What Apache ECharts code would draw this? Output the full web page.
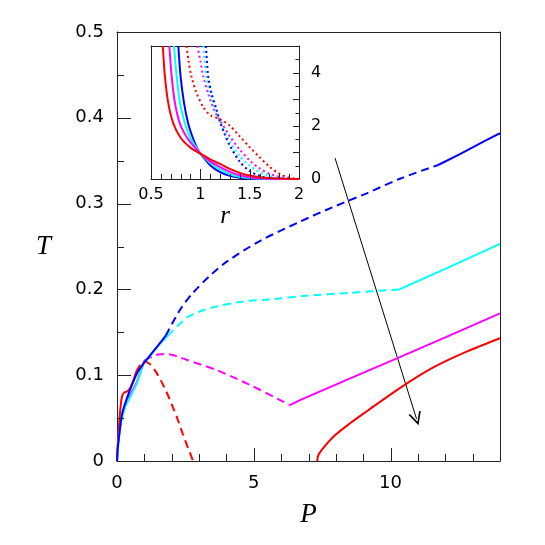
<!DOCTYPE html>
<html>
<head>
<meta charset="utf-8">
<script src="https://cdn.jsdelivr.net/npm/echarts@6/dist/echarts.min.js"></script>
<style>
  html, body { margin: 0; padding: 0; background: #fff; }
  #chart { width: 545px; height: 545px; }
</style>
</head>
<body>
<div id="chart"></div>
<script>
// main panel: T against P, each colour split into solid / dashed pieces
const redSolidA = [[0, 0], [0.03, 0.02], [0.06, 0.036], [0.12, 0.06], [0.18, 0.075], [0.27, 0.08], [0.37, 0.081], [0.5, 0.086], [0.6, 0.094], [0.7, 0.104]]
const redDashed = [[0.7, 0.104], [0.85, 0.112], [1.0, 0.116], [1.2, 0.113], [1.4, 0.105], [1.6, 0.094], [1.8, 0.081], [2.0, 0.066], [2.2, 0.05], [2.4, 0.032], [2.6, 0.015], [2.78, 0]]
const redSolidB = [[7.32, 0], [7.35, 0.006], [7.48, 0.0128], [7.91, 0.0283], [8.52, 0.044], [9.13, 0.058], [10.34, 0.085], [11.56, 0.109], [12.78, 0.1274], [14, 0.143]]

const magentaSolidA = [[0, 0], [0.05, 0.025], [0.15, 0.048], [0.3, 0.066], [0.5, 0.078], [0.7, 0.09], [0.85, 0.103], [1.0, 0.117]]
const magentaDashed = [[1.0, 0.117], [1.3, 0.122], [1.6, 0.1245], [1.9, 0.1245], [2.2, 0.122], [2.54, 0.118], [3.0, 0.113], [3.64, 0.106], [4.86, 0.0886], [5.96, 0.071], [6.32, 0.065]]
const magentaSolidB = [[6.32, 0.065], [6.69, 0.071], [8.5, 0.096], [10.34, 0.121], [12, 0.144], [14, 0.172]]

const cyanSolidA = [[0, 0], [0.05, 0.02], [0.15, 0.045], [0.3, 0.063], [0.55, 0.079], [0.72, 0.09], [0.84, 0.101], [0.96, 0.113], [1.2, 0.122], [1.5, 0.134], [1.85, 0.146]]
const cyanDashed = [[1.85, 0.146], [2.3, 0.16], [2.54, 0.167], [3.0, 0.174], [3.64, 0.18], [4.62, 0.186], [5.84, 0.189], [6.69, 0.192], [8.5, 0.196], [10.32, 0.2]]
const cyanSolidB = [[10.32, 0.2], [12, 0.224], [14, 0.253]]

const blueSolidA = [[0, 0], [0.02, 0.012], [0.06, 0.0245], [0.18, 0.054], [0.43, 0.079], [0.73, 0.102], [1.03, 0.116], [1.46, 0.133], [1.78, 0.146]]
const blueDashed = [[1.78, 0.146], [2.3, 0.176], [2.75, 0.195], [3.4, 0.216], [4.0, 0.232], [5.2, 0.256], [6.69, 0.279], [7.9, 0.296], [9.13, 0.312], [10.34, 0.329], [11.74, 0.345]]
const blueSolidB = [[11.74, 0.345], [12.5, 0.357], [13.5, 0.374], [14, 0.382]]

const arrowFrom = [7.97, 0.353]
const arrowTo = [10.95, 0.049]

// tick labels and tick positions
const mainXLabels = [0, 5, 10]
const mainXMajorTicks = [5, 10]
const mainXMinorTicks = [1, 2, 3, 4, 6, 7, 8, 9, 11, 12, 13]
const mainYMajorTicks = [0.1, 0.2, 0.3, 0.4]
const mainYMinorTicks = [0.05, 0.15, 0.25, 0.35, 0.45]

// inset: r
const insetRedSolid = [[0.62, 5], [0.64, 3.9], [0.675, 2.85], [0.725, 2.1], [0.8, 1.55], [0.9, 1.18], [1.0, 0.95], [1.1, 0.74], [1.2, 0.57], [1.3, 0.38], [1.4, 0.23], [1.5, 0.13], [1.6, 0.07], [1.7, 0.035], [1.85, 0.012], [2.0, 0.003]]
const insetMagentaSolid = [[0.686, 5], [0.71, 3.85], [0.743, 2.85], [0.794, 2.07], [0.862, 1.57], [0.93, 1.25], [1.0, 0.96], [1.1, 0.66], [1.2, 0.45], [1.3, 0.27], [1.4, 0.14], [1.5, 0.07], [1.6, 0.03], [1.75, 0.01], [2.0, 0]]
const insetCyanSolid = [[0.733, 5], [0.76, 3.85], [0.794, 2.85], [0.845, 2.07], [0.895, 1.57], [0.956, 1.2], [1.0, 0.96], [1.1, 0.6], [1.2, 0.35], [1.3, 0.18], [1.4, 0.08], [1.5, 0.035], [1.65, 0.01], [2.0, 0]]
const insetBlueSolid = [[0.777, 5], [0.8, 3.85], [0.835, 2.85], [0.878, 2.07], [0.922, 1.57], [0.963, 1.2], [1.0, 0.96], [1.1, 0.52], [1.2, 0.26], [1.3, 0.12], [1.4, 0.045], [1.5, 0.015], [1.65, 0], [2.0, 0]]

const insetRedDotted = [[0.86, 5], [0.88, 4.45], [0.91, 3.85], [0.96, 3.25], [1.03, 2.7], [1.1, 2.4], [1.2, 2.25], [1.3, 2.0], [1.4, 1.6], [1.5, 1.2], [1.6, 0.82], [1.7, 0.47], [1.8, 0.2], [1.9, 0.05], [2.0, 0]]
const insetMagentaDotted = [[0.97, 5], [1.0, 4.45], [1.03, 3.85], [1.08, 3.2], [1.14, 2.6], [1.2, 2.2], [1.3, 1.6], [1.4, 1.1], [1.5, 0.7], [1.6, 0.4], [1.7, 0.2], [1.8, 0.08], [1.9, 0.02], [2.0, 0]]
const insetCyanDotted = [[1.03, 5], [1.06, 3.85], [1.1, 3.2], [1.15, 2.6], [1.2, 2.15], [1.3, 1.4], [1.4, 0.85], [1.5, 0.5], [1.6, 0.26], [1.7, 0.11], [1.8, 0.04], [1.9, 0.01], [2.0, 0]]
const insetBlueDotted = [[1.057, 5], [1.08, 3.85], [1.115, 3.2], [1.165, 2.6], [1.2, 2.15], [1.25, 1.65], [1.3, 1.25], [1.4, 0.65], [1.5, 0.3], [1.6, 0.12], [1.7, 0.04], [1.8, 0.01], [2.0, 0]]

const insetYLabels = [0, 2, 4]
const insetXMajorTicks = [1, 1.5]
const insetXMinorTicks = [0.6, 0.7, 0.8, 0.9, 1.1, 1.2, 1.3, 1.4, 1.6, 1.7, 1.8, 1.9]
const insetYMajorTicks = [1, 2, 3, 4]
const insetYMinorTicks = [0.5, 1.5, 2.5, 3.5, 4.5]

const RED = '#ff0000'
const MAGENTA = '#ff00ff'
const CYAN = '#00ffff'
const BLUE = '#0000ff'
const AXIS = '#222'
const labelFont = 'DejaVu Sans'
const nameFont = 'Liberation Serif'

function curve (data, color, dash, idx, smooth) {
  return {
    type: 'line',
    data: data,
    xAxisIndex: idx === 0 ? 0 : 1,
    yAxisIndex: idx,
    symbol: 'none',
    smooth: smooth,
    lineStyle: { color: color, width: 2, type: dash }
  }
}

// tick marks drawn through the axis scales; side says which frame edge they sit on
function ticks (values, idx, side, anchor, len) {
  return {
    type: 'custom',
    xAxisIndex: idx === 0 ? 0 : 1,
    yAxisIndex: idx,
    silent: true,
    clip: false,
    z: 4,
    encode: { x: 0, y: 0 },
    data: values.map(v => [v]),
    renderItem: (params, api) => {
      const v = api.value(0)
      let p
      let shape
      if (side === 'bottom') {
        p = api.coord([v, anchor])
        const x = Math.round(p[0]) + 0.5
        shape = { x1: x, y1: p[1], x2: x, y2: p[1] - len }
      } else if (side === 'left') {
        p = api.coord([anchor, v])
        const y = Math.round(p[1]) + 0.5
        shape = { x1: p[0], y1: y, x2: p[0] + len, y2: y }
      } else {
        p = api.coord([anchor, v])
        const y = Math.round(p[1]) + 0.5
        shape = { x1: p[0], y1: y, x2: p[0] - len, y2: y }
      }
      return { type: 'line', shape: shape, style: { stroke: AXIS, lineWidth: 1 } }
    }
  }
}

// plain border axis: only a line, no ticks or labels
function borderAxis (grid, pos, min, max) {
  return {
    gridIndex: grid,
    type: 'value',
    min: min,
    max: max,
    position: pos,
    axisLine: { show: true, onZero: false, lineStyle: { color: AXIS } },
    axisTick: { show: false },
    axisLabel: { show: false },
    splitLine: { show: false }
  }
}

const dash = [8, 5]
const dot = [2, 3]

const chart = echarts.init(document.getElementById('chart'))

const series = [
  curve(redSolidA, RED, 'solid', 0, 0.2),
  curve(redDashed, RED, dash, 0, 0.3),
  curve(redSolidB, RED, 'solid', 0, 0.3),
  curve(magentaSolidA, MAGENTA, 'solid', 0, 0.2),
  curve(magentaDashed, MAGENTA, dash, 0, 0.3),
  curve(magentaSolidB, MAGENTA, 'solid', 0, false),
  curve(cyanSolidA, CYAN, 'solid', 0, 0.2),
  curve(cyanDashed, CYAN, dash, 0, 0.3),
  curve(cyanSolidB, CYAN, 'solid', 0, false),
  curve(blueSolidA, BLUE, 'solid', 0, 0.2),
  curve(blueDashed, BLUE, dash, 0, 0.3),
  curve(blueSolidB, BLUE, 'solid', 0, false),

  curve(insetRedDotted, RED, dot, 1, 0.3),
  curve(insetMagentaDotted, MAGENTA, dot, 1, 0.3),
  curve(insetCyanDotted, CYAN, dot, 1, 0.3),
  curve(insetBlueDotted, BLUE, dot, 1, 0.3),
  curve(insetBlueSolid, BLUE, 'solid', 1, 0.3),
  curve(insetCyanSolid, CYAN, 'solid', 1, 0.3),
  curve(insetMagentaSolid, MAGENTA, 'solid', 1, 0.3),
  curve(insetRedSolid, RED, 'solid', 1, 0.3),

  ticks(mainXMajorTicks, 0, 'bottom', 0, 13),
  ticks(mainXMinorTicks, 0, 'bottom', 0, 7),
  ticks(mainYMajorTicks, 0, 'left', 0, 14),
  ticks(mainYMinorTicks, 0, 'left', 0, 7),
  ticks(insetXMajorTicks, 1, 'bottom', 0, 10),
  ticks(insetXMinorTicks, 1, 'bottom', 0, 5),
  ticks(insetYMajorTicks, 1, 'right', 2, 6),
  ticks(insetYMinorTicks, 1, 'right', 2, 3.5)
]

// the arrow across the curves
series.push({
  type: 'lines',
  coordinateSystem: 'cartesian2d',
  xAxisIndex: 0,
  yAxisIndex: 0,
  symbol: ['none', 'path://M5,0 L10,18 L8.6,18 L5,5 L1.4,18 L0,18 Z'],
  symbolSize: [8, 13],
  lineStyle: { color: '#000', width: 1, opacity: 1 },
  data: [{ coords: [arrowFrom, arrowTo] }]
})

const option = {
  animation: false,
  grid: [
    { left: 117, top: 32, width: 383, height: 429 },
    { left: 151, top: 46, width: 148, height: 133 }
  ],
  xAxis: [
    {
      gridIndex: 0,
      type: 'value',
      min: 0,
      max: 14,
      interval: 1,
      name: 'P',
      nameLocation: 'middle',
      nameGap: 40,
      nameTextStyle: { fontFamily: nameFont, fontStyle: 'italic', fontSize: 27, color: '#000' },
      axisLine: { onZero: false, lineStyle: { color: AXIS } },
      axisTick: { show: false },
      axisLabel: {
        margin: 13,
        fontFamily: labelFont,
        fontSize: 18,
        color: '#000',
        formatter: v => (mainXLabels.indexOf(v) >= 0 ? String(v) : '')
      },
      splitLine: { show: false }
    },
    {
      gridIndex: 1,
      type: 'value',
      min: 0.5,
      max: 2,
      interval: 0.5,
      name: 'r',
      nameLocation: 'middle',
      nameGap: 21,
      nameTextStyle: { fontFamily: nameFont, fontStyle: 'italic', fontSize: 25, color: '#000' },
      axisLine: { onZero: false, lineStyle: { color: AXIS } },
      axisTick: { show: false },
      axisLabel: { margin: 8, fontFamily: labelFont, fontSize: 16, color: '#000' },
      splitLine: { show: false }
    },
    borderAxis(0, 'top', 0, 14),
    borderAxis(1, 'top', 0.5, 2)
  ],
  yAxis: [
    {
      gridIndex: 0,
      type: 'value',
      min: 0,
      max: 0.5,
      interval: 0.1,
      name: 'T',
      nameLocation: 'middle',
      nameRotate: 0,
      nameGap: 66,
      nameTextStyle: { fontFamily: nameFont, fontStyle: 'italic', fontSize: 27, color: '#000' },
      axisLine: { show: true, onZero: false, lineStyle: { color: AXIS } },
      axisTick: { show: false },
      axisLabel: { margin: 13, fontFamily: labelFont, fontSize: 18, color: '#000' },
      splitLine: { show: false }
    },
    {
      gridIndex: 1,
      type: 'value',
      min: 0,
      max: 5,
      interval: 1,
      position: 'right',
      axisLine: { show: true, onZero: false, lineStyle: { color: AXIS } },
      axisTick: { show: false },
      axisLabel: {
        margin: 12,
        fontFamily: labelFont,
        fontSize: 16,
        color: '#000',
        formatter: v => (insetYLabels.indexOf(v) >= 0 ? String(v) : '')
      },
      splitLine: { show: false }
    },
    borderAxis(0, 'right', 0, 0.5),
    borderAxis(1, 'left', 0, 5)
  ],
  series: series
}

chart.setOption(option)
</script>
</body>
</html>
